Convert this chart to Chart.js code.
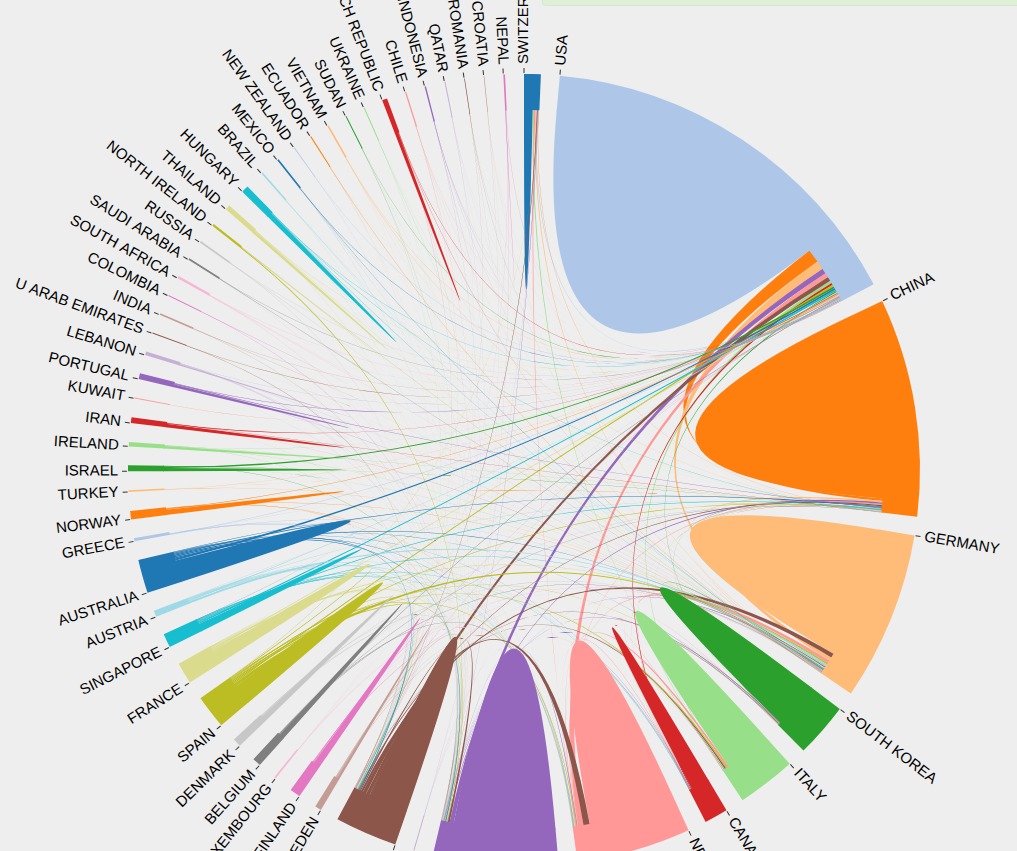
<!DOCTYPE html>
<html>
<head>
<meta charset="utf-8">
<title>Chord diagram</title>
<script src="https://cdn.jsdelivr.net/npm/chart.js@4/dist/chart.umd.min.js"></script>
<style>
  html, body { margin: 0; padding: 0; background: #eeeeee; overflow: hidden; height: 100%; }
  #notice { position: absolute; left: 542px; top: -12px; width: 520px; height: 16px; background: #dff0d8; border: 1px solid #d6e9c6; border-radius: 4px; }
  #chord { position: absolute; left: 0; top: 0; }
</style>
</head>
<body>
<canvas id="chord" width="1048" height="940"></canvas>
<div id="notice"></div>
<script>
// group 8, 9 and 10 have their labels below the visible part of the picture
const countries = ['SWITZERLAND', 'USA', 'CHINA', 'GERMANY', 'SOUTH KOREA', 'ITALY', 'CANADA', 'NETHERLANDS', '', '', '',
  'SWEDEN', 'FINLAND', 'LUXEMBOURG', 'BELGIUM', 'DENMARK', 'SPAIN', 'FRANCE', 'SINGAPORE', 'AUSTRIA', 'AUSTRALIA',
  'GREECE', 'NORWAY', 'TURKEY', 'ISRAEL', 'IRELAND', 'IRAN', 'KUWAIT', 'PORTUGAL', 'LEBANON', 'U ARAB EMIRATES',
  'INDIA', 'COLOMBIA', 'SOUTH AFRICA', 'SAUDI ARABIA', 'RUSSIA', 'NORTH IRELAND', 'THAILAND', 'HUNGARY', 'BRAZIL',
  'MEXICO', 'NEW ZEALAND', 'ECUADOR', 'VIETNAM', 'SUDAN', 'UKRAINE', 'CZECH REPUBLIC', 'CHILE', 'INDONESIA', 'QATAR',
  'ROMANIA', 'CROATIA', 'NEPAL'];

const groupTotals = [2.45, 56.85, 32.05, 24.85, 8, 8.65, 3.45, 16.8, 18.35, 0.15, 9.15,
  0.95, 1.55, 0.25, 1.25, 1.25, 4.95, 3.15, 2.05, 0.95, 4.95,
  0.45, 1.25, 0.25, 0.85, 0.65, 0.85, 0.12, 0.85, 0.55, 0.15,
  0.25, 0.15, 0.35, 0.25, 0.25, 0.35, 0.75, 1.05, 0.25,
  0.25, 0.12, 0.15, 0.25, 0.15, 0.15, 0.75, 0.2, 0.2, 0.15,
  0.1, 0.1, 0.25];

// the part of each group that flows back into itself
const selfValues = [1.4, 47.6, 30.1, 21.7, 7.5, 7.65, 3.1, 14.1, 17.25, 0.01, 6.5,
  0.4, 1.1, 0.02, 0.85, 0.9, 3.4, 2.2, 1.2, 0.05, 3.5,
  0.04, 0.85, 0.02, 0.5, 0.4, 0.55, 0.01, 0.45, 0.2, 0.02,
  0.03, 0.06, 0.04, 0.04, 0.04, 0.05, 0.45, 0.8, 0.02,
  0.01, 0.01, 0.01, 0.03, 0.01, 0.02, 0.55, 0.02, 0.03, 0.01,
  0.01, 0.01, 0.07];

const gapValue = 2.75;

const palette = ['#1f77b4', '#aec7e8', '#ff7f0e', '#ffbb78', '#2ca02c', '#98df8a', '#d62728', '#ff9896', '#9467bd', '#c5b0d5',
  '#8c564b', '#c49c94', '#e377c2', '#f7b6d2', '#7f7f7f', '#c7c7c7', '#bcbd22', '#dbdb8d', '#17becf', '#9edae5'];

// [a, b, value at a, value at b], the ribbon takes the colour of group b
const links = [
  [0,1,.12,.1], [0,2,.05,.03], [0,3,.15,.05], [0,5,.2,.03], [0,7,.2,.05], [0,8,.08,.03], [0,9,.05,.03], [0,10,.12,.05],
  [1,2,2.2,.4], [1,3,1.4,.6], [2,3,.25,.05],
  [1,4,.2,.04], [2,4,.12,.05], [3,4,.1,.03],
  [1,5,.4,.1], [2,5,.1,.03], [3,5,.2,.05],
  [1,6,.35,.15], [2,6,.08,.03], [3,6,.08,.03], [4,6,.02,.02], [5,6,.03,.02],
  [1,7,.75,.9], [2,7,.2,.08], [3,7,.5,.1], [4,7,.06,.03], [5,7,.3,.08], [6,7,.05,.02],
  [1,8,.85,.7], [2,8,.22,.1], [3,8,.2,.08], [4,8,.12,.04], [5,8,.1,.04], [6,8,.06,.03], [7,8,.1,.05],
  [1,9,.01,.02], [3,9,.01,.02], [7,9,.01,.02],
  [1,10,.7,.6], [2,10,.2,.1], [3,10,.7,.35], [4,10,.05,.03], [5,10,.2,.1], [6,10,.04,.02], [7,10,1,.6], [8,10,.3,.2],
  [1,11,.05,.05], [3,11,.03,.06], [7,11,.02,.05], [8,11,.03,.05], [10,11,.05,.08],
  [1,12,.05,.05], [2,12,.02,.03], [3,12,.03,.08], [8,12,.03,.05], [10,12,.05,.08],
  [1,13,.02,.02], [3,13,.02,.03], [7,13,.005,.02], [10,13,.005,.02],
  [1,14,.05,.05], [2,14,.02,.03], [3,14,.04,.05], [7,14,.04,.05], [10,14,.02,.03],
  [1,15,.06,.05], [2,15,.02,.03], [3,15,.03,.08], [7,15,.02,.05], [8,15,.02,.04],
  [1,16,.3,.2], [2,16,.06,.1], [3,16,.25,.55], [5,16,.22,.15], [7,16,.1,.2], [8,16,.1,.2], [10,16,.08,.15], [4,16,.03,.1], [0,16,.02,.05], [17,16,.05,.1],
  [1,17,.18,.15], [2,17,.05,.05], [3,17,.12,.2], [5,17,.08,.1], [7,17,.05,.1], [8,17,.1,.15], [10,17,.08,.1],
  [1,18,.25,.2], [2,18,.09,.12], [3,18,.1,.12], [7,18,.04,.08], [8,18,.06,.12], [10,18,.1,.1], [6,18,.02,.05],
  [1,19,.05,.12], [2,19,.06,.08], [3,19,.25,.35], [7,19,.03,.1], [8,19,.03,.1], [10,19,.06,.1], [6,19,.03,.05],
  [1,20,.28,.35], [2,20,.12,.15], [3,20,.06,.2], [7,20,.03,.15], [8,20,.1,.2], [10,20,.12,.2], [4,20,.03,.06], [6,20,.03,.06], [18,20,.06,.06],
  [1,21,.06,.04], [3,21,.02,.05], [7,21,.01,.03], [8,21,.02,.03], [10,21,.02,.03],
  [1,22,.1,.1], [2,22,.02,.02], [3,22,.02,.05], [7,22,.02,.04], [8,22,.02,.03],
  [1,23,.1,.05], [3,23,.03,.03], [8,23,.005,.01],
  [1,24,.3,.3], [2,24,.01,.02], [3,24,.01,.02], [8,24,.01,.02],
  [1,25,.06,.05], [2,25,.01,.02], [3,25,.01,.03], [8,25,.03,.04],
  [1,26,.12,.1], [2,26,.02,.02], [3,26,.02,.03], [10,26,.01,.02],
  [1,27,.01,.01], [3,27,.005,.015], [8,27,.005,.01],
  [1,28,.05,.05], [2,28,.12,.15], [3,28,.02,.04], [8,28,.02,.03],
  [1,29,.03,.04], [3,29,.01,.05], [7,29,.01,.03], [8,29,.02,.05], [10,29,.005,.03],
  [1,30,.02,.015], [3,30,.005,.01], [8,30,.01,.015], [10,30,.005,.015],
  [1,31,.05,.03], [3,31,.01,.03], [8,31,.01,.03], [10,31,.005,.015],
  [1,32,.03,.02], [3,32,.005,.01], [8,32,.005,.015],
  [1,33,.03,.03], [3,33,.02,.04], [8,33,.02,.04], [10,33,.01,.03],
  [1,34,.02,.02], [3,34,.01,.03], [8,34,.01,.02], [10,34,.005,.02],
  [1,35,.03,.03], [2,35,.005,.02], [3,35,.02,.04], [10,35,.005,.02],
  [1,36,.02,.02], [8,36,.06,.12], [3,36,.005,.015], [10,36,.005,.02],
  [1,37,.04,.05], [2,37,.01,.04], [3,37,.02,.05], [8,37,.01,.03],
  [1,38,.04,.03], [2,38,.01,.02], [3,38,.03,.06], [8,38,.01,.03], [7,38,.01,.02],
  [1,39,.03,.03], [3,39,.01,.03], [8,39,.005,.02], [10,39,.005,.02],
  [1,40,.03,.03], [3,40,.005,.015], [6,40,.01,.02], [8,40,.005,.02],
  [1,41,.02,.02], [8,41,.01,.03], [10,41,.005,.01],
  [1,42,.01,.01], [3,42,.005,.015], [8,42,.005,.01], [10,42,.005,.01],
  [1,43,.02,.02], [2,43,.01,.04], [3,43,.005,.025], [8,43,.005,.02],
  [1,44,.01,.01], [8,44,.005,.025], [10,44,.005,.015],
  [1,45,.01,.01], [3,45,.005,.025], [8,45,.005,.015], [10,45,.005,.015],
  [1,46,.06,.03], [3,46,.03,.05], [8,46,.005,.015], [10,46,.005,.02],
  [1,47,.02,.03], [3,47,.005,.02], [8,47,.005,.02], [10,47,.005,.02],
  [1,48,.02,.02], [2,48,.005,.025], [3,48,.005,.02], [8,48,.005,.02],
  [1,49,.01,.015], [3,49,.005,.015], [8,49,.005,.025], [10,49,.005,.015],
  [1,50,.01,.01], [3,50,.005,.02], [10,50,.005,.015],
  [1,51,.01,.01], [3,51,.005,.015], [8,51,.005,.02],
  [1,52,.02,.02], [2,52,.005,.02], [8,52,.01,.03], [10,52,.005,.025]
];

const groupColour = (i) => palette[i % palette.length];

// cut every group arc into subgroups, biggest first
const layoutRibbons = (arcs) => {
  const ends = groupTotals.map(() => []);

  links.forEach((link, n) => {
    ends[link[0]].push({ link: n, side: 0, value: link[2] });
    ends[link[1]].push({ link: n, side: 1, value: link[3] });
  });

  const ribbons = links.map((link) => ({ a: link[0], b: link[1], colour: groupColour(link[1]) }));

  groupTotals.forEach((total, i) => {
    const list = ends[i].concat([{ own: true, value: selfValues[i] }]).sort((p, q) => q.value - p.value);
    const sum = list.reduce((acc, e) => acc + e.value, 0);
    const unit = (arcs[i].endAngle - arcs[i].startAngle) / Math.max(total, sum);
    let angle = arcs[i].startAngle;

    list.forEach((e) => {
      const range = [angle, angle + e.value * unit];
      angle = range[1];
      if (e.own) {
        ribbons.push({ a: i, b: i, colour: groupColour(i), from: range, to: range });
      } else if (e.side === 0) {
        ribbons[e.link].from = range;
      } else {
        ribbons[e.link].to = range;
      }
    });
  });

  return ribbons.sort((p, q) => Math.min(p.a, p.b) - Math.min(q.a, q.b) || Math.max(p.a, p.b) - Math.max(q.a, q.b));
};

const chordPlugin = {
  id: 'chord',
  beforeDraw(chart) {
    chart.ctx.fillStyle = '#eeeeee';
    chart.ctx.fillRect(0, 0, chart.width, chart.height);
  },
  beforeDatasetsDraw(chart) {
    const ctx = chart.ctx;
    const arcs = chart.getDatasetMeta(0).data.filter((_, n) => n % 2 === 0);
    const cx = arcs[0].x;
    const cy = arcs[0].y;
    // one pixel under the ring so no seam shows
    const r = arcs[0].innerRadius + 1;

    layoutRibbons(arcs).forEach((ribbon) => {
      ctx.beginPath();
      ctx.arc(cx, cy, r, ribbon.from[0], ribbon.from[1]);
      ctx.quadraticCurveTo(cx, cy, cx + r * Math.cos(ribbon.to[0]), cy + r * Math.sin(ribbon.to[0]));
      ctx.arc(cx, cy, r, ribbon.to[0], ribbon.to[1]);
      ctx.quadraticCurveTo(cx, cy, cx + r * Math.cos(ribbon.from[0]), cy + r * Math.sin(ribbon.from[0]));
      ctx.closePath();
      ctx.fillStyle = ribbon.colour;
      ctx.fill();
    });
  },
  afterDatasetsDraw(chart) {
    const ctx = chart.ctx;
    const arcs = chart.getDatasetMeta(0).data.filter((_, n) => n % 2 === 0);

    ctx.save();
    ctx.font = '15px "Liberation Sans", Arial, sans-serif';
    ctx.fillStyle = '#000';
    ctx.strokeStyle = '#333';
    ctx.textBaseline = 'middle';

    arcs.forEach((arc, i) => {
      const R = arc.outerRadius;
      const a = arc.startAngle;

      ctx.save();
      ctx.translate(arc.x, arc.y);
      ctx.rotate(a);
      ctx.beginPath();
      ctx.moveTo(R + 1, 0);
      ctx.lineTo(R + 6, 0);
      ctx.stroke();
      ctx.translate(R + 10, 0);
      // left half of the circle: turn the text so it stays readable
      if (Math.cos(a) < 0 || a > Math.PI / 2) {
        ctx.rotate(Math.PI);
        ctx.textAlign = 'right';
      } else {
        ctx.textAlign = 'left';
      }
      ctx.fillText(countries[i], 0, 0);
      ctx.restore();
    });
    ctx.restore();
  }
};

const sliceValues = [];
const sliceColours = [];
const sliceLabels = [];
groupTotals.forEach((total, i) => {
  sliceValues.push(total, gapValue);
  sliceColours.push(groupColour(i), 'rgba(0,0,0,0)');
  sliceLabels.push(countries[i], '');
});

// opaque canvas, the label text renders closer to plain page text this way
const canvas = document.getElementById('chord');
canvas.getContext('2d', { alpha: false });

new Chart(canvas, {
  type: 'doughnut',
  data: {
    labels: sliceLabels,
    datasets: [{
      data: sliceValues,
      backgroundColor: sliceColours,
      borderWidth: 0
    }]
  },
  options: {
    responsive: false,
    animation: false,
    cutout: '90.9%',
    layout: { padding: { left: 128, right: 128, top: 74, bottom: 74 } },
    plugins: { legend: { display: false }, tooltip: { enabled: false } }
  },
  plugins: [chordPlugin]
});
</script>
</body>
</html>
